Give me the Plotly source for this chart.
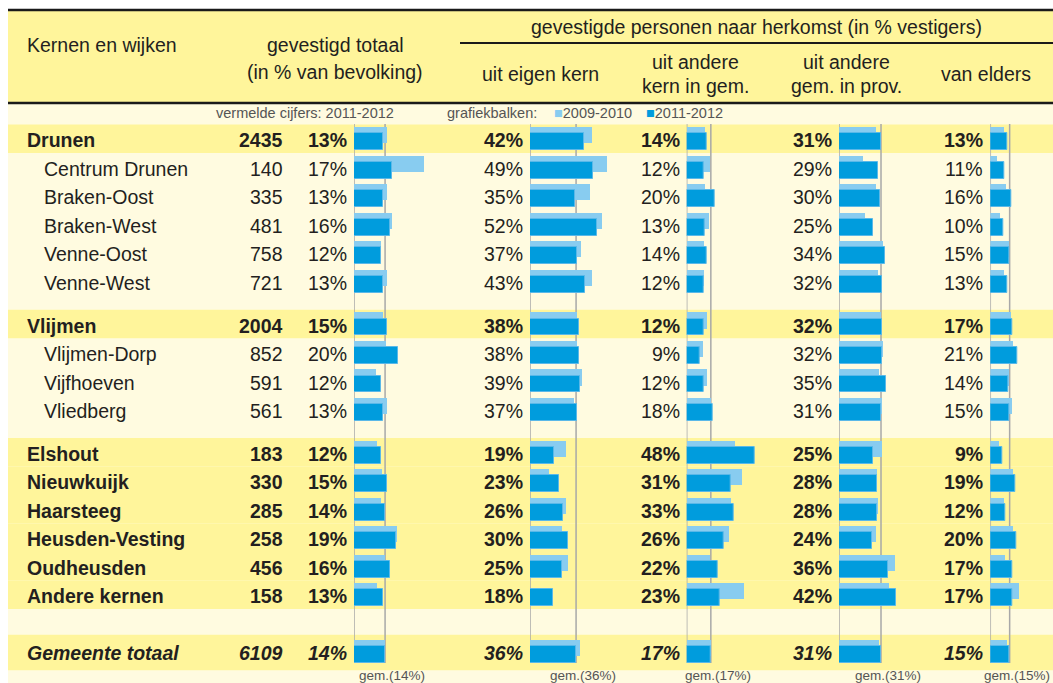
import plotly.graph_objects as go

W, H = 1053, 683

# ---------------- data ----------------
kernen = ["Drunen", "Centrum Drunen", "Braken-Oost", "Braken-West", "Venne-Oost", "Venne-West",
          "Vlijmen", "Vlijmen-Dorp", "Vijfhoeven", "Vliedberg",
          "Elshout", "Nieuwkuijk", "Haarsteeg", "Heusden-Vesting", "Oudheusden", "Andere kernen",
          "Gemeente totaal"]
niveau = ["kern", "wijk", "wijk", "wijk", "wijk", "wijk",
          "kern", "wijk", "wijk", "wijk",
          "kern", "kern", "kern", "kern", "kern", "kern",
          "totaal"]
groep = [0, 0, 0, 0, 0, 0, 1, 1, 1, 1, 2, 2, 2, 2, 2, 2, 3]
gevestigd_aantal = [2435, 140, 335, 481, 758, 721, 2004, 852, 591, 561,
                    183, 330, 285, 258, 456, 158, 6109]

totaal_2011_2012 = [13, 17, 13, 16, 12, 13, 15, 20, 12, 13, 12, 15, 14, 19, 16, 13, 14]
totaal_2009_2010 = [15, 31.5, 15, 17, 12, 15, 13, 14.5, 10, 15, 10.5, 12.5, 12, 19.5, 14, 10.5, 14]
eigen_2011_2012 = [42, 49, 35, 52, 37, 43, 38, 38, 39, 37, 19, 23, 26, 30, 25, 18, 36]
eigen_2009_2010 = [48.5, 60.5, 47, 56.5, 40, 48.5, 37, 37, 41, 34, 28, 14.5, 28.5, 25, 30, None, 39]
anderekern_2011_2012 = [14, 12, 20, 13, 14, 12, 12, 9, 12, 18, 48, 31, 33, 26, 22, 23, 17]
anderekern_2009_2010 = [13, 16, 13, 15.5, 12, 12, 14, 11, 14, 17, 33.5, 38.5, 31, 29.5, 16.5, 40, 17]
prov_2011_2012 = [31, 29, 30, 25, 34, 32, 32, 32, 35, 31, 25, 28, 28, 24, 36, 42, 31]
prov_2009_2010 = [27, 18, 27.5, 19, 32.5, 28.5, 31, 32.5, 29.5, 32, 31.5, 28, 29, 27.5, 41.5, 37, 29.5]
elders_2011_2012 = [13, 11, 16, 10, 15, 13, 17, 21, 14, 15, 9, 19, 12, 20, 17, 17, 15]
elders_2009_2010 = [11, 5.5, 12.5, 8, 15, 10.5, 16.5, 18, 15, 17, 7, 18, 11, 18, 11.5, 22.5, 13.5]

gemiddelde = [14, 36, 17, 31, 15]
reeksen_2011_2012 = [totaal_2011_2012, eigen_2011_2012, anderekern_2011_2012, prov_2011_2012, elders_2011_2012]
reeksen_2009_2010 = [totaal_2009_2010, eigen_2009_2010, anderekern_2009_2010, prov_2009_2010, elders_2009_2010]

# ---------------- layout helpers ----------------
YELLOW = "#FFF59B"
CREAM = "#FFFBE0"
LIGHT = "#88CCF0"
DARK = "#009CDD"
GRID = "#A8A8A8"
TXT = "#231F20"
GREY_TXT = "#555555"
FONT = "Liberation Sans, Arial, sans-serif"
FS = 19.5

ROW_PX = 28.5
FIRST_PX = 138.8


def ry(py):
    """pixel row -> y-axis units"""
    return (py - FIRST_PX) / ROW_PX


def pxx(px):
    return px / W


# row positions (in row units), with gaps between groups
gap_before = {1: 0.5, 2: 0.5, 3: 1.0}
rows = []
pos = 0.0
for i, g in enumerate(groep):
    if i > 0:
        pos += 1.0
        if g != groep[i - 1]:
            pos += gap_before[g]
    rows.append(pos)

# panel geometry (pixels): zero line, px per %, right edge
panels = [
    dict(zero=354.0, scale=2.22, right=445.0),
    dict(zero=530.0, scale=1.28, right=635.0),
    dict(zero=686.7, scale=1.42, right=790.0),
    dict(zero=839.0, scale=1.355, right=940.0),
    dict(zero=990.3, scale=1.29, right=1053.0),
]

fig = go.Figure()

for i, p in enumerate(panels):
    ax = "x" if i == 0 else f"x{i + 1}"
    fig.add_trace(go.Bar(
        x=reeksen_2009_2010[i], y=rows, orientation="h", xaxis=ax, yaxis="y",
        width=0.57, offset=-0.41, marker=dict(color=LIGHT, line=dict(width=0)),
        name="2009-2010", showlegend=False, hoverinfo="x"))
    fig.add_trace(go.Bar(
        x=reeksen_2011_2012[i], y=rows, orientation="h", xaxis=ax, yaxis="y",
        width=0.59, offset=-0.19, marker=dict(color=DARK, line=dict(width=1, color="#5AB8E8")),
        name="2011-2012", showlegend=False, hoverinfo="x"))

shapes = []
# body background
shapes.append(dict(type="rect", xref="paper", yref="y", x0=pxx(8), x1=1, y0=ry(103), y1=ry(H + 5),
                   fillcolor=CREAM, line=dict(width=0), layer="below"))
# header background
shapes.append(dict(type="rect", xref="paper", yref="y", x0=pxx(8), x1=1, y0=ry(10), y1=ry(103),
                   fillcolor=YELLOW, line=dict(width=0), layer="below"))
# yellow bands for kernen and totaal
for r, lv in zip(rows, niveau):
    if lv == "kern":
        y0, y1 = r - 0.5, r + 0.5
    elif lv == "totaal":
        y0, y1 = r - 0.6, r + 0.65
    else:
        continue
    shapes.append(dict(type="rect", xref="paper", yref="y", x0=pxx(8), x1=1, y0=y0, y1=y1,
                       fillcolor=YELLOW, line=dict(width=0), layer="below"))
# header rules
for py, x0, wdt in [(10, 8, 2.5), (103, 8, 2.5), (43, 460, 2)]:
    shapes.append(dict(type="line", xref="paper", yref="y", x0=pxx(x0), x1=1, y0=ry(py), y1=ry(py),
                       line=dict(color="#1A1A1A", width=wdt), layer="above"))
# zero and average lines
for i, p in enumerate(panels):
    ax = "x" if i == 0 else f"x{i + 1}"
    for xv in (0, gemiddelde[i]):
        shapes.append(dict(type="line", xref=ax, yref="y", x0=xv, x1=xv, y0=ry(124), y1=ry(663),
                           line=dict(color=GRID, width=1.5), layer="below"))

ann = []


def txt(text, x, y, xanchor="center", xref="paper", size=FS, color=TXT, xshift=0, yshift=0):
    ann.append(dict(text=text, x=x, y=y, xref=xref, yref="y", xanchor=xanchor, yanchor="middle",
                    showarrow=False, font=dict(size=size, color=color, family=FONT),
                    xshift=xshift, yshift=yshift))


# header texts
txt("Kernen en wijken", pxx(25), ry(45), xanchor="left")
txt("gevestigd totaal", pxx(335), ry(45))
txt("(in % van bevolking)", pxx(335), ry(72))
txt("gevestigde personen naar herkomst (in % vestigers)", pxx(756), ry(27))
txt("uit eigen kern", pxx(540), ry(74))
txt("uit andere", pxx(695), ry(62))
txt("kern in gem.", pxx(695), ry(86))
txt("uit andere", pxx(846), ry(62))
txt("gem. in prov.", pxx(846), ry(86))
txt("van elders", pxx(986), ry(74))

# sub header
txt("vermelde cijfers: 2011-2012", pxx(305), ry(113), size=14.5, color=GREY_TXT)
txt("grafiekbalken:", pxx(445), ry(113), xanchor="left", size=14.5, color=GREY_TXT)
txt(f"<span style='color:{LIGHT}'>■</span>2009-2010", pxx(552), ry(113), xanchor="left", size=14.5, color=GREY_TXT)
txt(f"<span style='color:{DARK}'>■</span>2011-2012", pxx(644), ry(113), xanchor="left", size=14.5, color=GREY_TXT)


def styl(s, lv):
    if lv == "kern":
        return f"<b>{s}</b>"
    if lv == "totaal":
        return f"<b><i>{s}</i></b>"
    return s


for k, r, lv, n in zip(kernen, rows, niveau, gevestigd_aantal):
    txt(styl(k, lv), pxx(25 if lv != "wijk" else 42), r, xanchor="left", yshift=-1.5)
    txt(styl(str(n), lv), pxx(285), r, xanchor="right", yshift=-1.5)

for i, p in enumerate(panels):
    ax = "x" if i == 0 else f"x{i + 1}"
    for r, lv, v in zip(rows, niveau, reeksen_2011_2012[i]):
        txt(styl(f"{v}%", lv), 0, r, xanchor="right", xref=ax, xshift=-5, yshift=-1.5)
    txt(f"gem.({gemiddelde[i]}%)", gemiddelde[i], ry(675.5), xref=ax, size=13.5, color=GREY_TXT, xshift=7)

layout_axes = {}
for i, p in enumerate(panels):
    key = "xaxis" if i == 0 else f"xaxis{i + 1}"
    layout_axes[key] = dict(domain=[pxx(p["zero"]), pxx(p["right"])],
                            range=[0, (p["right"] - p["zero"]) / p["scale"]],
                            anchor="y", visible=False, fixedrange=True)

fig.update_layout(
    width=W, height=H, margin=dict(l=0, r=0, t=0, b=0),
    paper_bgcolor="white", plot_bgcolor="rgba(0,0,0,0)",
    barmode="overlay", bargap=0,
    font=dict(family=FONT, color=TXT, size=FS),
    yaxis=dict(domain=[0, 1], range=[ry(H), ry(0)], visible=False, fixedrange=True, anchor="x"),
    shapes=shapes, annotations=ann, showlegend=False,
    **layout_axes,
)

fig.write_html("out.html", config={"displayModeBar": False},
               post_script="document.body.style.margin='0px';")
